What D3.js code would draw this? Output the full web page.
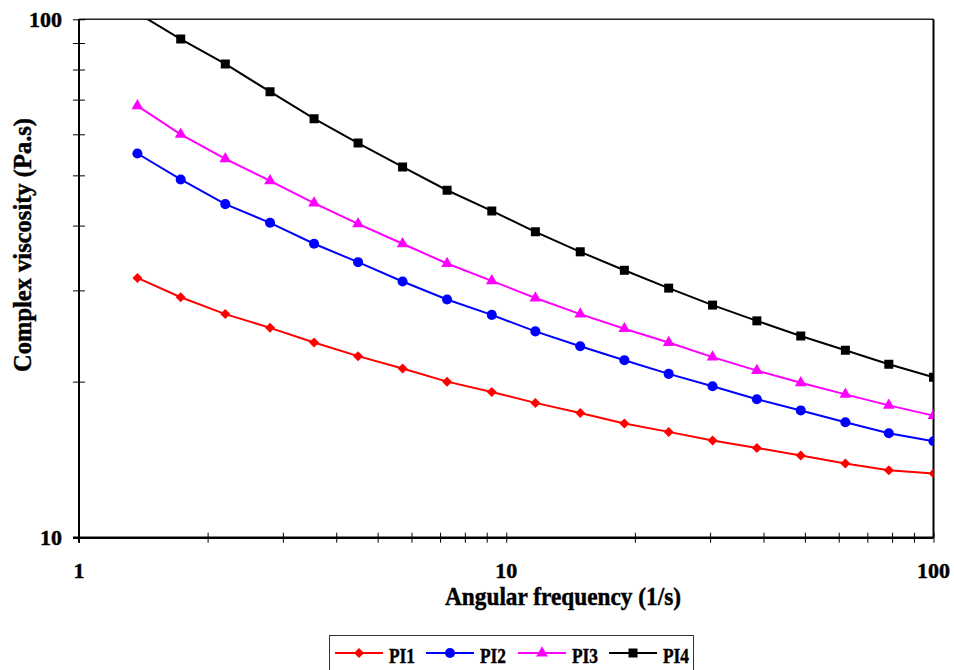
<!DOCTYPE html>
<html><head><meta charset="utf-8">
<script src="https://cdn.jsdelivr.net/npm/d3@7"></script>
<style>
body{margin:0;background:#fff;}
text{font-family:"Liberation Serif","Times New Roman",serif;font-weight:bold;fill:#000;stroke:#000;stroke-width:0.45px;}
</style></head>
<body><svg id="chart" width="954" height="670"></svg>
<script>
const frequency = [1.37, 1.73, 2.2, 2.8, 3.55, 4.5, 5.72, 7.27, 9.25, 11.7, 14.9, 18.9, 24, 30.4, 38.6, 48.9, 62.2, 78.6, 100];
const PI1 = [31.7, 29.1, 27.0, 25.4, 23.8, 22.4, 21.2, 20.0, 19.1, 18.2, 17.4, 16.6, 16.0, 15.4, 14.9, 14.4, 13.9, 13.5, 13.3];
const PI2 = [55.1, 49.1, 44.0, 40.5, 36.9, 34.0, 31.2, 28.8, 26.9, 25.0, 23.4, 22.0, 20.7, 19.6, 18.5, 17.6, 16.7, 15.9, 15.35];
const PI3 = [68.1, 60.0, 53.8, 48.8, 44.2, 40.3, 36.9, 33.8, 31.3, 29.0, 27.0, 25.3, 23.8, 22.3, 21.0, 19.9, 18.9, 18.0, 17.2];
const PI4 = [102.8, 91.6, 82.0, 72.5, 64.3, 57.7, 51.9, 46.8, 42.7, 38.9, 35.6, 32.8, 30.3, 28.1, 26.2, 24.5, 23.0, 21.6, 20.4];
const seriesNames = ["PI1", "PI2", "PI3", "PI4"];
const xTickLabels = [1, 10, 100];
const yTickLabels = [10, 100];
const xTitle = "Angular frequency (1/s)";
const yTitle = "Complex viscosity (Pa.s)";

const seriesData = [PI1, PI2, PI3, PI4];
const colors = ["#ff0000", "#0000ff", "#ff00ff", "#000000"];
const symbols = [
  {type: d3.symbolSquare, size: 50, rot: 45},
  {type: d3.symbolCircle, size: 80, rot: 0},
  {type: d3.symbolTriangle, size: 60, rot: 0},
  {type: d3.symbolSquare, size: 81, rot: 0}
];

const svg = d3.select("#chart");
const L = 79, R = 933.5, T = 19.3, B = 537.7;
const x = d3.scaleLog().domain([1, 100]).range([L, R]);
const y = d3.scaleLog().domain([10, 100]).range([B, T]);

svg.append("defs").append("clipPath").attr("id", "clip")
  .append("rect").attr("x", L).attr("y", T).attr("width", R - L).attr("height", B - T);

// plot border (top/right)
svg.append("line").attr("x1", L).attr("x2", R).attr("y1", T).attr("y2", T)
  .attr("stroke", "#222").attr("stroke-width", 1.5);
svg.append("line").attr("x1", R).attr("x2", R).attr("y1", T).attr("y2", B)
  .attr("stroke", "#000").attr("stroke-width", 2);

// series
const plot = svg.append("g").attr("clip-path", "url(#clip)");
const line = d3.line().x((d, i) => x(frequency[i])).y(d => y(d));
seriesData.forEach((vals, s) => {
  plot.append("path").datum(vals).attr("d", line)
    .attr("fill", "none").attr("stroke", colors[s]).attr("stroke-width", 2);
  const sym = d3.symbol().type(symbols[s].type).size(symbols[s].size);
  plot.selectAll(null).data(vals).enter().append("path")
    .attr("d", sym)
    .attr("transform", (d, i) => `translate(${x(frequency[i])},${y(d)}) rotate(${symbols[s].rot})`)
    .attr("fill", colors[s]);
});

// axes
const xAxis = d3.axisBottom(x).tickValues(d3.range(1, 10).concat(d3.range(10, 100, 10), [100]))
  .tickSize(5).tickFormat("");
const gx = svg.append("g").attr("transform", `translate(0,${B})`).call(xAxis);
gx.select(".domain").remove();
gx.selectAll(".tick line").attr("y1", -5).attr("y2", 5).attr("stroke", "#000").attr("stroke-width", 1);
svg.append("line").attr("x1", L - 6).attr("x2", R).attr("y1", B).attr("y2", B)
  .attr("stroke", "#000").attr("stroke-width", 2.5);

const yAxis = d3.axisLeft(y).tickValues(d3.range(10, 100, 10).concat([100])).tickSize(6).tickFormat("");
const gy = svg.append("g").attr("transform", `translate(${L},0)`).call(yAxis);
gy.select(".domain").remove();
gy.selectAll(".tick line").attr("x1", -6).attr("x2", 6).attr("stroke", "#000").attr("stroke-width", 1);
svg.append("line").attr("x1", L).attr("x2", L).attr("y1", T).attr("y2", B + 5)
  .attr("stroke", "#000").attr("stroke-width", 2);

// tick labels
svg.selectAll(null).data(xTickLabels).enter().append("text")
  .attr("x", d => x(d)).attr("y", 578).attr("text-anchor", "middle")
  .attr("font-size", 22).text(d => d);
svg.selectAll(null).data(yTickLabels).enter().append("text")
  .attr("x", 62).attr("y", d => y(d) + 7.5).attr("text-anchor", "end")
  .attr("font-size", 22).text(d => d);

// titles
svg.append("text").attr("x", 445).attr("y", 605)
  .attr("font-size", 25).attr("textLength", 236).attr("lengthAdjust", "spacingAndGlyphs").text(xTitle);
svg.append("text").attr("transform", "translate(31,372) rotate(-90)")
  .attr("font-size", 25).attr("textLength", 254).attr("lengthAdjust", "spacingAndGlyphs").text(yTitle);

// legend
const lg = svg.append("g");
lg.append("rect").attr("x", 329.5).attr("y", 635.5).attr("width", 364).attr("height", 50)
  .attr("fill", "#fff").attr("stroke", "#333").attr("stroke-width", 1);
const legX = [335, 426, 518, 609];
seriesNames.forEach((name, s) => {
  const g = lg.append("g").attr("transform", `translate(${legX[s]},653)`);
  g.append("line").attr("x1", 0).attr("x2", 48).attr("y1", 0).attr("y2", 0)
    .attr("stroke", colors[s]).attr("stroke-width", 2);
  g.append("path").attr("d", d3.symbol().type(symbols[s].type).size(symbols[s].size))
    .attr("transform", `translate(24,0) rotate(${symbols[s].rot})`).attr("fill", colors[s]);
  g.append("text").attr("x", 54).attr("y", 10).attr("font-size", 21)
    .attr("textLength", 26).attr("lengthAdjust", "spacingAndGlyphs").text(name);
});
</script></body></html>
